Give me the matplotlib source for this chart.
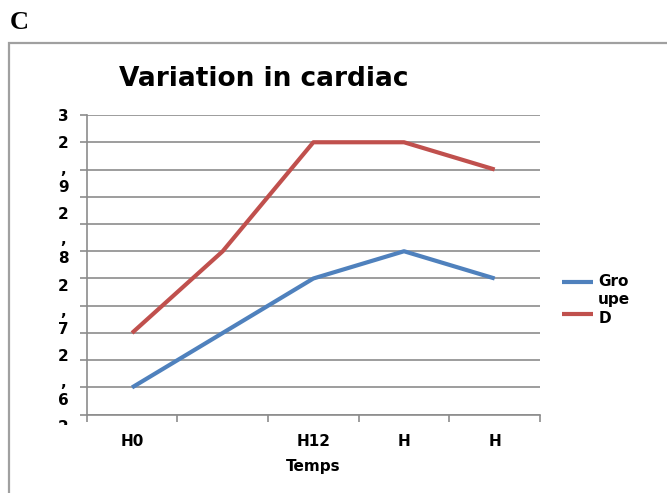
import matplotlib
matplotlib.use('Agg')
import matplotlib.pyplot as plt
from matplotlib.patches import Rectangle
from matplotlib.transforms import blended_transform_factory
from matplotlib.legend_handler import HandlerLine2D

# ==============================================================================
# Data
categories = ['H0', '', 'H12', 'H', 'H']
groupe_blue = [2.50, 2.60, 2.70, 2.75, 2.70]
groupe_red = [2.60, 2.75, 2.95, 2.95, 2.90]
legend_labels = ['Gro\nupe', 'D']

# y axis: gridlines every 0.05, broken (wrapped) Excel labels
y_grid = [3.00, 2.95, 2.90, 2.85, 2.80, 2.75, 2.70, 2.65, 2.60, 2.55, 2.50, 2.45]
y_label_pos = [3.000, 2.950, 2.903, 2.870, 2.820, 2.774, 2.739, 2.688, 2.642, 2.609, 2.559, 2.512, 2.478]
y_label_txt = ['3', '2', ',', '9', '2', ',', '8', '2', ',', '7', '2', ',', '6']

# ==============================================================================
TF = 19     # title
LBF = 11    # labels
lw1 = 3.0
grid_c = '#8c8c8c'
blue = '#4F81BD'
red = '#C0504D'


class ShiftedLine(HandlerLine2D):
    # Excel puts the legend key next to the first line of a wrapped label
    def __init__(self, shift=0, **kw):
        super().__init__(**kw)
        self.shift = shift

    def create_artists(self, legend, orig_handle, xdescent, ydescent,
                       width, height, fontsize, trans):
        return super().create_artists(legend, orig_handle, xdescent, ydescent - self.shift,
                                      width, height, fontsize, trans)


fig = plt.figure(figsize=(6.67, 4.93), dpi=100)
ax = fig.add_axes([0.130, 0.1588, 0.6796, 0.6079])

x = list(range(1, len(categories) + 1))
l_blue, = ax.plot(x, groupe_blue, color=blue, lw=lw1, solid_capstyle='butt', label=legend_labels[0])
l_red, = ax.plot(x, groupe_red, color=red, lw=lw1, solid_capstyle='butt', label=legend_labels[1])

ax.set_xlim(0.5, len(categories) + 0.5)
ax.set_ylim(y_grid[-1], y_grid[0])

# major ticks: gridlines / boundaries
ax.set_yticks(y_grid)
ax.set_yticklabels([])
ax.set_xticks([i + 0.5 for i in range(0, len(categories) + 1)])
ax.set_xticklabels([])
ax.tick_params(axis='both', which='major', length=5, width=1.2, color=grid_c, direction='out')

# minor ticks carry the labels
ax.yaxis.remove_overlapping_locs = False
ax.xaxis.remove_overlapping_locs = False
ax.set_yticks(y_label_pos, labels=y_label_txt, minor=True)
ax.set_xticks(x, labels=categories, minor=True)
ax.tick_params(axis='y', which='minor', length=0, pad=17, labelsize=LBF)
ax.tick_params(axis='x', which='minor', length=0, pad=14, labelsize=LBF)
for lab in ax.get_yticklabels(minor=True):
    lab.set_fontweight('bold')
    lab.set_ha('center')
for lab in ax.get_xticklabels(minor=True):
    lab.set_fontweight('bold')

ax.grid(axis='y', which='major', color=grid_c, lw=1.2)
ax.set_axisbelow(True)
for s in ['top', 'right']:
    ax.spines[s].set_visible(False)
for s in ['left', 'bottom']:
    ax.spines[s].set_color(grid_c)
    ax.spines[s].set_linewidth(1.2)

ax.set_xlabel('Temps', fontsize=LBF, fontweight='bold', labelpad=7)

# cut-off label under the axis
trans = blended_transform_factory(ax.transAxes, ax.transData)
t = ax.text(-0.052, 2.427, '2', transform=trans, ha='center', va='center',
            fontsize=LBF, fontweight='bold', clip_on=True)
clip = Rectangle((0, 493 - 425), 667, 425, transform=None)
t.set_clip_path(clip)

fig.legend(handles=[l_blue, l_red], loc='upper left', bbox_to_anchor=(0.843, 0.444),
           frameon=False, prop={'weight': 'bold', 'size': LBF},
           handlelength=2.0, handletextpad=0.35, labelspacing=0.3,
           borderpad=0, borderaxespad=0,
           handler_map={l_blue: ShiftedLine(shift=13), l_red: ShiftedLine(shift=5)})

fig.text(0.395, 0.840, 'Variation in cardiac', ha='center', va='center',
         fontsize=TF, fontweight='bold')
fig.text(0.014, 0.954, 'C', ha='left', va='center', fontsize=19,
         fontweight='bold', family='Liberation Serif')

fig.patches.append(Rectangle((0.013, -0.05), 1.2, 0.9134 + 0.05, transform=fig.transFigure,
                             fill=False, edgecolor='#a0a0a0', lw=1.6))

fig.savefig('out.png', dpi=100)
